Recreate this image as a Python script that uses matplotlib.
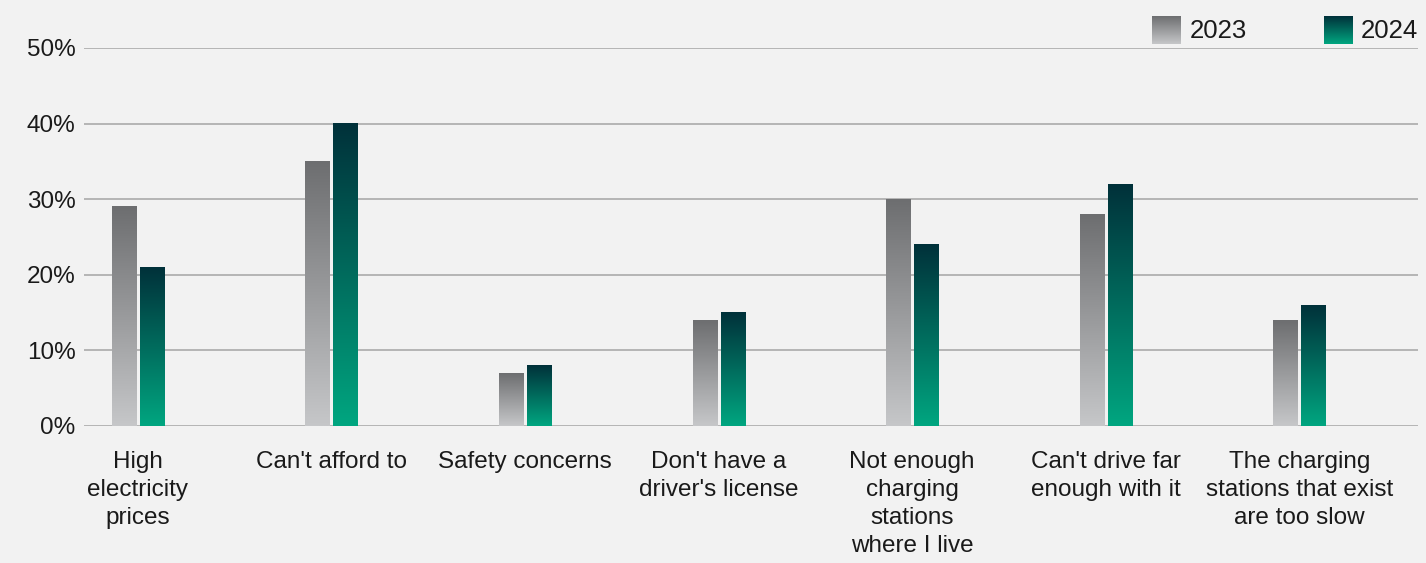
import numpy as np
import matplotlib.pyplot as plt
from matplotlib.colors import LinearSegmentedColormap

categories = [
    "High\nelectricity\nprices",
    "Can't afford to",
    "Safety concerns",
    "Don't have a\ndriver's license",
    "Not enough\ncharging\nstations\nwhere I live",
    "Can't drive far\nenough with it",
    "The charging\nstations that exist\nare too slow",
]
values_2023 = [29, 35, 7, 14, 30, 28, 14]
values_2024 = [21, 40, 8, 15, 24, 32, 16]
years = ["2023", "2024"]
yticks = [0, 10, 20, 30, 40, 50]

plt.rcParams['font.family'] = ['Liberation Sans', 'DejaVu Sans']

bg = "#f2f2f2"
cmap_2023 = LinearSegmentedColormap.from_list("g23", ["#c6c7c9", "#6d6e70"])
cmap_2024 = LinearSegmentedColormap.from_list("g24", ["#00a680", "#00313a"])
grad = np.linspace(0, 1, 256).reshape(-1, 1)

fig = plt.figure(figsize=(14.26, 5.63), dpi=100, facecolor=bg)
ax = fig.add_axes([84 / 1426, 1 - 426 / 563, (1418 - 84) / 1426, (426 - 48) / 563])
ax.set_facecolor(bg)

x = np.arange(len(categories))
w = 0.124
off = 0.072


def gradient_bars(xs, heights, cmap):
    for xc, h in zip(xs, heights):
        ax.imshow(grad, cmap=cmap, origin="lower", aspect="auto",
                  extent=(xc - w / 2, xc + w / 2, 0, h), zorder=3)


gradient_bars(x - off, values_2023, cmap_2023)
gradient_bars(x + off, values_2024, cmap_2024)

ax.set_xlim(-0.278, 6.613)
ax.set_ylim(0, 50)
ax.set_yticks(yticks)
ax.set_yticklabels([f"{v}%" for v in yticks], fontsize=17.5, color="#1a1a1a")
ax.set_xticks(x)
ax.set_xticklabels(categories, fontsize=17.5, color="#1a1a1a", linespacing=1.36, va="top")
ax.tick_params(axis="both", length=0)
ax.tick_params(axis="y", pad=6)
ax.tick_params(axis="x", pad=18)
ax.grid(axis="y", color="#b0b0b0", linewidth=1.3, zorder=0)
ax.set_axisbelow(True)
for s in ax.spines.values():
    s.set_visible(False)

# legend swatches
for (lx, tx), cmap, yr in zip([(1152, 1190), (1324, 1361)], [cmap_2023, cmap_2024], years):
    sw = fig.add_axes([lx / 1426, 1 - 44 / 563, 29 / 1426, 28 / 563])
    sw.imshow(grad, cmap=cmap, origin="lower", aspect="auto")
    sw.axis("off")
    fig.text(tx / 1426, 1 - 31 / 563, yr, fontsize=18.5, va="center", ha="left", color="#1a1a1a")

fig.savefig("out.png", dpi=100, facecolor=bg)
